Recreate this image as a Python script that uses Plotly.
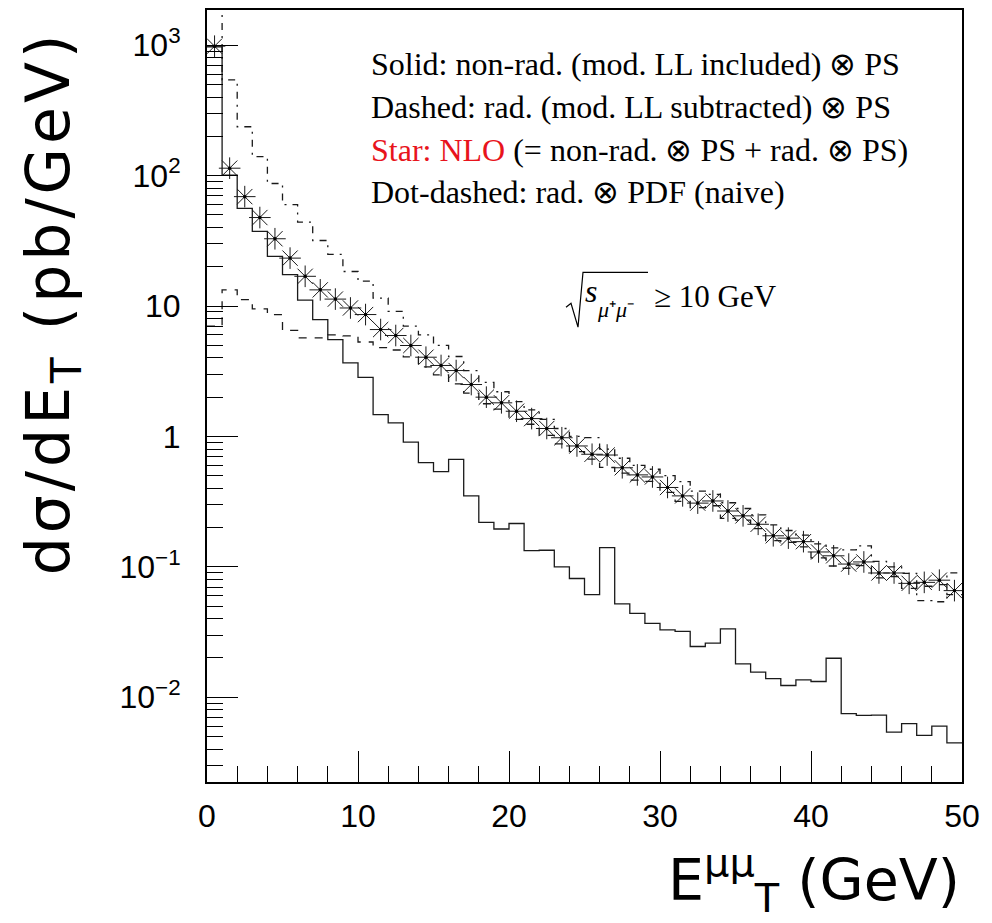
import plotly.graph_objects as go

# ---------------- data ----------------
bin_edges = list(range(0, 51))  # E_T bins of 1 GeV, 0..50

solid_nonrad = [970, 101, 56, 37.3, 24, 17.4, 11.1, 7.87, 5.53, 3.66,
                2.84, 1.47, 1.27, 0.905, 0.63, 0.537, 0.668, 0.35, 0.219, 0.195,
                0.215, 0.133, 0.134, 0.100, 0.0814, 0.0612, 0.1406, 0.0519, 0.044, 0.0369,
                0.0328, 0.032, 0.0245, 0.026, 0.0334, 0.018, 0.0156, 0.0139, 0.0123, 0.0136,
                0.0132, 0.0199, 0.00748, 0.00726, 0.0073, 0.0054, 0.00627, 0.0051, 0.0060, 0.00446]

dashed_rad = [7, 13.3, 11.2, 9.5, 8.6, 6.5, 5.7, 5.7, 6.0, 5.9,
              5.3, 4.8, 4.6, 4.08, 3.42, 2.96, 2.53, 2.15, 1.78, 1.62,
              1.35, 1.24, 1.02, 0.877, 0.764, 0.669, 0.58, 0.523, 0.463, 0.452,
              0.373, 0.318, 0.284, 0.294, 0.235, 0.228, 0.196, 0.159, 0.154, 0.142,
              0.117, 0.1015, 0.0975, 0.102, 0.0824, 0.0843, 0.0684, 0.071, 0.073, 0.0612]

star_nlo = [983, 114, 69, 47.7, 32.8, 23.3, 16.9, 13.3, 11.3, 9.66,
            8.6, 6.6, 5.94, 4.98, 4.05, 3.50, 3.2, 2.5, 2.0, 1.81,
            1.56, 1.37, 1.15, 0.977, 0.845, 0.730, 0.72, 0.575, 0.507, 0.489,
            0.406, 0.35, 0.308, 0.32, 0.268, 0.246, 0.212, 0.173, 0.166, 0.156,
            0.130, 0.1215, 0.105, 0.109, 0.0897, 0.0897, 0.0747, 0.076, 0.079, 0.0657]

dotdash_pdf = [5000, 542, 237, 140, 87, 60, 44, 31.8, 24.9, 18.4,
               15.5, 11.5, 9.1, 7.0, 6.0, 5.0, 4.1, 3.2, 2.6, 2.2,
               1.85, 1.6, 1.35, 1.15, 1.0, 0.98, 0.80, 0.68, 0.60, 0.56,
               0.50, 0.45, 0.38, 0.36, 0.31, 0.28, 0.25, 0.21, 0.19, 0.175,
               0.15, 0.14, 0.135, 0.145, 0.11, 0.10, 0.089, 0.055, 0.054, 0.09]

y_tick_vals = [1e3, 1e2, 10, 1, 0.1, 0.01]
y_tick_text = ["10<sup>3</sup>", "10<sup>2</sup>", "10", "1", "10<sup>−1</sup>", "10<sup>−2</sup>"]
x_tick_vals = [0, 10, 20, 30, 40, 50]

legend_lines = [
    ("Solid: non-rad. (mod. LL included) ⊗ PS", None),
    ("Dashed: rad. (mod. LL subtracted) ⊗ PS", None),
    ("Star: NLO", " (= non-rad. ⊗ PS + rad. ⊗ PS)"),
    ("Dot-dashed: rad. ⊗ PDF (naive)", None),
]

# ---------------- layout helpers ----------------
OFF = 8                      # default body margin of the html page
FW, FH = 992 - OFF, 923 - OFF
ML, MR, MT, MB = 199, 30, 0, 141
PW, PH = FW - ML - MR, FH - MT - MB


def px(x_page):
    return (x_page - OFF - ML) / PW


def py(y_page):
    return (MT + PH - (y_page - OFF)) / PH


def hist_xy(vals):
    return bin_edges, vals + vals[-1:]


centers = [e + 0.5 for e in bin_edges[:-1]]

fig = go.Figure()

line_col = "#1a1a1a"
for vals, dash in [(solid_nonrad, "solid"),
                   (dashed_rad, "8px,8px"),
                   (dotdash_pdf, "7px,6px,2px,6px")]:
    hx, hy = hist_xy(vals)
    fig.add_trace(go.Scatter(x=hx, y=hy, mode="lines", line_shape="hv",
                             line=dict(color=line_col, width=1.3, dash=dash),
                             showlegend=False, hoverinfo="skip"))

fig.add_trace(go.Scatter(x=centers, y=star_nlo, mode="markers",
                         marker=dict(symbol="asterisk-open", size=18, color=line_col,
                                     line=dict(color=line_col, width=1.0)),
                         showlegend=False))
fig.add_trace(go.Scatter(x=centers, y=star_nlo, mode="markers",
                         marker=dict(symbol="circle", size=3.5, color="black"),
                         showlegend=False, hoverinfo="skip"))

# minor tick positions on log axis
y_minor = [m * 10 ** e for e in range(-3, 4) for m in range(2, 10)]
y_minor = [v for v in y_minor if 2.2e-3 < v < 1.85e3]

tickfont = dict(family="Liberation Sans Narrow, Liberation Sans, Arial, sans-serif",
                size=32, color="black")

fig.update_xaxes(range=[0, 50], tickvals=x_tick_vals, ticks="inside", ticklen=31,
                 tickwidth=1, tickcolor="black", showline=True, linewidth=2,
                 linecolor="black", mirror=True, showgrid=False, zeroline=False,
                 tickfont=tickfont, ticklabelstandoff=5,
                 minor=dict(dtick=2, ticks="inside", ticklen=16, tickwidth=1,
                            tickcolor="black", showgrid=False))
fig.update_yaxes(type="log", range=[-2.650, 3.270], tickvals=y_tick_vals,
                 ticktext=y_tick_text, ticks="inside", ticklen=31, tickwidth=1,
                 tickcolor="black", showline=True, linewidth=2, linecolor="black",
                 mirror=True, showgrid=False, zeroline=False, tickfont=tickfont,
                 ticklabelstandoff=18,
                 minor=dict(tickmode="array", tickvals=y_minor, ticks="inside",
                            ticklen=16, tickwidth=1, tickcolor="black", showgrid=False))

serif = "Liberation Serif, Times New Roman, serif"
ann = []
ys = [62, 105, 148, 190]
for (txt, rest), yy in zip(legend_lines, ys):
    if rest is None:
        label = txt
    else:
        label = f"<span style='color:#e8141c'>{txt}</span>{rest}"
    ann.append(dict(x=px(369), y=py(yy), xref="paper", yref="paper", text=label,
                    showarrow=False, xanchor="left", yanchor="middle",
                    font=dict(family=serif, size=32, color="black")))

# sqrt(s_mu+mu-) >= 10 GeV
ann.append(dict(x=px(583), y=py(290), xref="paper", yref="paper", text="<i>s</i>",
                showarrow=False, xanchor="left", yanchor="middle",
                font=dict(family=serif, size=32, color="black")))
ann.append(dict(x=px(595), y=py(308), xref="paper", yref="paper", text="<i>μ</i>⁺<i>μ</i>⁻",
                showarrow=False, xanchor="left", yanchor="middle",
                font=dict(family=serif, size=22, color="black")))
ann.append(dict(x=px(652), y=py(295), xref="paper", yref="paper", text="≥ 10 GeV",
                showarrow=False, xanchor="left", yanchor="middle",
                font=dict(family=serif, size=31, color="black")))

# axis titles
ann.append(dict(x=px(52), y=py(302), xref="paper", yref="paper",
                text="<span style='letter-spacing:4px'>dσ/dE<sub>T</sub> (pb/GeV)</span>",
                textangle=-90, showarrow=False,
                xanchor="center", yanchor="middle",
                font=dict(family="DejaVu Sans, Liberation Sans, sans-serif", size=60,
                          color="black")))
ann.append(dict(x=px(962), y=py(880), xref="paper", yref="paper",
                text="E<sup>μμ</sup><sub>T</sub> (GeV)", showarrow=False,
                xanchor="right", yanchor="middle",
                font=dict(family="DejaVu Sans, Liberation Sans, sans-serif", size=57,
                          color="black")))

# radical sign drawn as a shape
pts = [(566, 306), (571, 302), (578, 326), (583, 271), (648, 271)]
path = "M " + " L ".join(f"{px(a):.5f},{py(b):.5f}" for a, b in pts)
shapes = [dict(type="path", xref="paper", yref="paper", path=path,
               line=dict(color="black", width=1.2))]

fig.update_layout(width=FW, height=FH, margin=dict(l=ML, r=MR, t=MT, b=MB),
                  paper_bgcolor="white", plot_bgcolor="white",
                  annotations=ann, shapes=shapes, showlegend=False)

fig.write_html("out.html")
